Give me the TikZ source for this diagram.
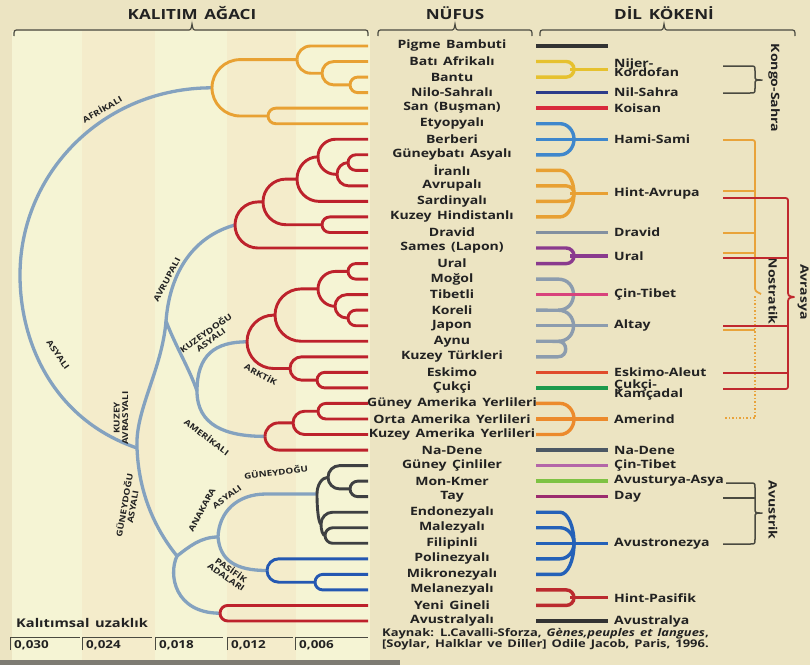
\documentclass[tikz,border=0pt]{standalone}
\usepackage{fontspec}
\setmainfont{Open Sans}[FakeStretch=1.22, WordSpace=1.5]
\usetikzlibrary{calc}
\definecolor{bgc}{HTML}{ECE4C2}
\definecolor{panA}{HTML}{F5F4D4}
\definecolor{panB}{HTML}{F4ECCB}
\definecolor{txt}{HTML}{222222}
\definecolor{brc}{HTML}{4A4A40}
\definecolor{trk}{HTML}{84A2BF}
\definecolor{orT}{HTML}{E8A133}
\definecolor{rdT}{HTML}{BD222C}
\definecolor{dkT}{HTML}{3E4042}
\definecolor{blT}{HTML}{2458B2}
\definecolor{cPig}{HTML}{333333}
\definecolor{cNij}{HTML}{E6C12E}
\definecolor{cNil}{HTML}{2D3C8A}
\definecolor{cKoi}{HTML}{D92A3C}
\definecolor{cHam}{HTML}{3F87CC}
\definecolor{cHin}{HTML}{E8A033}
\definecolor{cDra}{HTML}{8390A0}
\definecolor{cUra}{HTML}{8A3A8E}
\definecolor{cTib}{HTML}{D8427C}
\definecolor{cAlt}{HTML}{8C9CAE}
\definecolor{cEsk}{HTML}{E04B2B}
\definecolor{cCuk}{HTML}{1C9A4C}
\definecolor{cAme}{HTML}{EC8A2C}
\definecolor{cNad}{HTML}{4C5864}
\definecolor{cCin}{HTML}{B466A8}
\definecolor{cMon}{HTML}{7EC243}
\definecolor{cTay}{HTML}{9C2C6E}
\definecolor{cAvn}{HTML}{2461B8}
\definecolor{cHpa}{HTML}{BB2A2E}
\definecolor{cAvs}{HTML}{333333}
\definecolor{cNos}{HTML}{E9A33A}
\definecolor{cAvr}{HTML}{C0282E}

% rounded cladogram arm from parent to child
\newcommand\arm[2]{\draw let \p1=(#1), \p2=(#2), \n1={(\y2)-(\y1)}, \n2={min(abs((\y2)-(\y1)),(\x2)-(\x1))} in (\p1) .. controls (\x1,{\y1+0.5523*(\n1)}) and ({\x1+0.4477*\n2},\y2) .. ({\x1+\n2},\y2) -- (\p2);}

% language fork: colour, centre y, list of prong ys
\newcommand\lfork[3]{%
 \foreach \yy in {#3}{%
   \pgfmathsetmacro\lfdd{\yy-(#2)}%
   \pgfmathsetmacro\lfrx{min(abs(\lfdd),14)}%
   \draw[lng,draw=#1] (536,\yy) -- ({574-\lfrx},\yy) .. controls ({574-0.4477*\lfrx},\yy) and (574,{#2+0.5523*\lfdd}) .. (574,#2);
 }%
 \draw[lng,draw=#1] (570,#2) -- (608,#2);
}

\begin{document}
\begin{tikzpicture}[x=1pt,y=-1pt,
  tree/.style={line width=2.9pt, line join=round},
  trunk/.style={line width=3.3pt, draw=trk, line join=round},
  lng/.style={line width=3.4pt},
  pop/.style={font=\bfseries\fontsize{11.5}{12}\selectfont, text=txt, inner sep=0pt},
  lab/.style={pop, anchor=west, align=left},
  blab/.style={font=\bfseries\fontsize{8.1}{8.4}\selectfont, text=txt, inner sep=0pt, align=center},
  hdr/.style={font=\bfseries\fontsize{14}{14}\selectfont, text=txt, inner sep=0pt},
  hbrace/.style={line width=1.2pt, draw=brc},
  rbrace/.style={line width=1.5pt, draw=brc, line join=round},
  nosline/.style={line width=1.8pt, draw=cNos},
  avrline/.style={line width=1.8pt, draw=cAvr, line join=round},
  side/.style={font=\bfseries\fontsize{11.5}{12}\selectfont, text=txt, inner sep=0pt, rotate=-90},
  scl/.style={font=\bfseries\fontsize{11}{12}\selectfont, text=txt, inner sep=0pt},
  sclline/.style={line width=0.9pt, draw=brc},
  src/.style={font=\bfseries\fontsize{10.6}{11}\selectfont, text=txt, inner sep=0pt}]

\useasboundingbox (0,0) rectangle (810,665);
\fill[bgc] (0,0) rectangle (810,665);
\fill[panA] (12,31) rectangle (370,660);
\fill[panB] (82,31) rectangle (155,660);
\fill[panB] (227,31) rectangle (296,660);
\fill[black!65, opacity=.75] (0,660) rectangle (400,665);

% headers
\node[hdr] (h1) at (192,13) {KALITIM AĞACI};
\node[hdr] (h2) at (455,13) {NÜFUS};
\node[hdr] (h3) at (664,13) {DİL KÖKENİ};
\draw[hbrace] (14,36) .. controls (14,30) .. (19,30) -- (187,30) .. controls (191,30) .. (192,24) .. controls (193,30) .. (197,30) -- (363,30) .. controls (368,30) .. (368,36);
\draw[hbrace] (378,36) .. controls (378,30) .. (383,30) -- (450,30) .. controls (454,30) .. (455,24) .. controls (456,30) .. (460,30) -- (527,30) .. controls (532,30) .. (532,36);
\draw[hbrace] (540,36) .. controls (540,30) .. (545,30) -- (659,30) .. controls (663,30) .. (664,24) .. controls (665,30) .. (669,30) -- (790,30) .. controls (795,30) .. (795,36);

% population names, leaf ends, language starts
\foreach \t [count=\i] in {Pigme Bambuti, Batı Afrikalı, Bantu, Nilo-Sahralı, San (Buşman), Etyopyalı, Berberi, Güneybatı Asyalı, İranlı, Avrupalı, Sardinyalı, Kuzey Hindistanlı, Dravid, Sames (Lapon), Ural, Moğol, Tibetli, Koreli, Japon, Aynu, Kuzey Türkleri, Eskimo, Çukçi, Güney Amerika Yerlileri, Orta Amerika Yerlileri, Kuzey Amerika Yerlileri, Na-Dene, Güney Çinliler, Mon-Kmer, Tay, Endonezyalı, Malezyalı, Filipinli, Polinezyalı, Mikronezyalı, Melanezyalı, Yeni Gineli, Avustralyalı}{
  \pgfmathsetmacro\ry{46+(\i-1)*15.54}
  \node[pop] (n\i) at (452,\ry) {\t};
  \coordinate (l\i) at (368,\ry);
  \coordinate (s\i) at (536,\ry);
}

% internal tree nodes
\coordinate (raf) at (212,87.8);
\coordinate (a) at (297,59.6);
\coordinate (b2) at (322,73.2);
\coordinate (b3) at (350,84.9);
\coordinate (s) at (268,116.0);
\coordinate (c1) at (348,162.6);
\coordinate (c2) at (337,174.3);
\coordinate (c3) at (318,156.8);
\coordinate (c4) at (297,179.1);
\coordinate (c5) at (322,224.7);
\coordinate (c6) at (263,201.9);
\coordinate (c7) at (235,225.0);
\coordinate (q1) at (348,271.4);
\coordinate (q2) at (348,318.0);
\coordinate (q3) at (335,306.3);
\coordinate (q4) at (318,288.9);
\coordinate (q5) at (275,315.1);
\coordinate (q6) at (317,380.1);
\coordinate (q7) at (290,368.5);
\coordinate (q8) at (247,341.8);
\coordinate (m1) at (318,411.2);
\coordinate (m2) at (293,422.9);
\coordinate (m3) at (265,436.4);
\coordinate (d1) at (350,488.9);
\coordinate (d2) at (328,477.3);
\coordinate (e1) at (325,535.5);
\coordinate (e2) at (321,523.9);
\coordinate (D) at (317,494.0);
\coordinate (p1) at (315,582.2);
\coordinate (P) at (267,570.5);
\coordinate (AU) at (220,613.2);
\coordinate (R0) at (20,275);
\coordinate (X) at (137,448);
\coordinate (Y) at (166,321);
\coordinate (W) at (197,391);
\coordinate (Z) at (177,556);
\coordinate (V) at (218,537);

% trunk (blue-grey)
\draw[trunk] (raf) .. controls (103,87.8) and (20,173) .. (R0) .. controls (20,345) and (55,420) .. (X);
\draw[trunk] (c7) .. controls (195,236) and (170,270) .. (Y) .. controls (162,370) and (135,410) .. (X) .. controls (139,500) and (160,535) .. (Z);
\draw[trunk] (Y) .. controls (175,345) and (190,370) .. (W);
\draw[trunk] (q8) .. controls (215,341.8) and (197,355) .. (W) .. controls (197,425) and (225,436.4) .. (m3);
\draw[trunk] (Z) .. controls (190,546) and (201,537) .. (V);
\draw[trunk] (Z) .. controls (168,575) and (175,613.2) .. (AU);
\draw[trunk] (D) -- (266,494) .. controls (237,494) and (219,512) .. (V) .. controls (220,560) and (235,570.5) .. (P);

% clades
\begin{scope}[tree, draw=orT]
\arm{raf}{a} \arm{raf}{s} \arm{a}{l1} \arm{a}{b2} \arm{b2}{l2} \arm{b2}{b3} \arm{b3}{l3} \arm{b3}{l4} \arm{s}{l5} \arm{s}{l6}
\end{scope}
\begin{scope}[tree, draw=rdT]
\arm{c7}{c6} \arm{c7}{l14} \arm{c6}{c4} \arm{c6}{c5} \arm{c5}{l12} \arm{c5}{l13} \arm{c4}{c3} \arm{c4}{l11} \arm{c3}{l7} \arm{c3}{c2} \arm{c2}{c1} \arm{c2}{l10} \arm{c1}{l8} \arm{c1}{l9}
\arm{q8}{q5} \arm{q8}{q7} \arm{q5}{q4} \arm{q5}{l20} \arm{q4}{q1} \arm{q4}{q3} \arm{q1}{l15} \arm{q1}{l16} \arm{q3}{l17} \arm{q3}{q2} \arm{q2}{l18} \arm{q2}{l19} \arm{q7}{l21} \arm{q7}{q6} \arm{q6}{l22} \arm{q6}{l23}
\arm{m3}{m2} \arm{m3}{l27} \arm{m2}{m1} \arm{m2}{l26} \arm{m1}{l24} \arm{m1}{l25}
\arm{AU}{l37} \arm{AU}{l38}
\end{scope}
\begin{scope}[tree, draw=dkT]
\arm{D}{d2} \arm{D}{e2} \arm{d2}{l28} \arm{d2}{d1} \arm{d1}{l29} \arm{d1}{l30} \arm{e2}{l31} \arm{e2}{e1} \arm{e1}{l32} \arm{e1}{l33}
\end{scope}
\begin{scope}[tree, draw=blT]
\arm{P}{l34} \arm{P}{p1} \arm{p1}{l35} \arm{p1}{l36}
\end{scope}

% branch labels
\node[blab, rotate=30] (tA) at (102,109) {AFRİKALI};
\node[blab, rotate=-55] (tB) at (58,355) {ASYALI};
\node[blab, rotate=62] (tC) at (167,280) {AVRUPALI};
\node[blab, rotate=35] (tD) at (208,336) {KUZEYDOĞU\\ASYALI};
\node[blab, rotate=-28] (tE) at (261,374) {ARKTİK};
\node[blab, rotate=-37] (tF) at (207,437) {AMERİKALI};
\node[blab, rotate=90] (tG) at (121,418) {KUZEY\\AVRASYALI};
\node[blab, rotate=80] (tH) at (128,506) {GÜNEYDOĞU\\ASYALI};
\node[blab, rotate=62] (tI) at (202,510) {ANAKARA};
\node[blab, rotate=7] (tJ) at (276,472) {GÜNEYDOĞU};
\node[blab, rotate=36] (tK) at (227,497) {ASYALI};
\node[blab, rotate=-35] (tL) at (229,573) {PASİFİK\\ADALARI};

% language lines
\draw[lng, draw=cPig] (s1) -- ++(72,0);
\lfork{cNij}{69.3}{61.5,77.1}
\draw[lng, draw=cNil] (s4) -- ++(72,0);
\draw[lng, draw=cKoi] (s5) -- ++(72,0);
\lfork{cHam}{139.2}{123.7,139.2,154.8}
\lfork{cHin}{193.6}{170.3,185.9,201.4,216.9}
\draw[lng, draw=cDra] (s13) -- ++(72,0);
\lfork{cUra}{255.8}{248.0,263.6}
\draw[lng, draw=cAlt] (s16) -- (558,279.1) .. controls (578.7,279.1) and (578.7,310.2) .. (558,310.2) -- (s18);
\draw[lng, draw=cAlt] (558,310.2) .. controls (578.7,310.2) and (578.7,341.3) .. (558,341.3) -- (s20);
\draw[lng, draw=cAlt] (558,341.3) .. controls (568.3,341.3) and (568.3,356.8) .. (558,356.8) -- (s21);
\draw[lng, draw=cAlt] (s19) -- ++(72,0);
\draw[lng, draw=cTib] (s17) -- ++(72,0);
\draw[lng, draw=cEsk] (s22) -- ++(72,0);
\draw[lng, draw=cCuk] (s23) -- ++(72,0);
\lfork{cAme}{419.0}{403.4,419.0,434.5}
\draw[lng, draw=cNad] (s27) -- ++(72,0);
\draw[lng, draw=cCin] (s28) -- ++(72,0);
\draw[lng, draw=cMon] (s29) -- ++(72,0);
\draw[lng, draw=cTay] (s30) -- ++(72,0);
\lfork{cAvn}{543.3}{512.2,527.7,543.3,558.8,574.4}
\lfork{cHpa}{597.7}{589.9,605.4}
\draw[lng, draw=cAvs] (s38) -- ++(72,0);

% language labels
\node[lab] (g1) at (614,68) {Nijer-\\[-3pt]Kordofan};
\node[lab] (g2) at (614,92.6) {Nil-Sahra};
\node[lab] (g3) at (614,108.2) {Koisan};
\node[lab] (g4) at (614,139.2) {Hami-Sami};
\node[lab] (g5) at (614,193.6) {Hint-Avrupa};
\node[lab] (g6) at (614,232.5) {Dravid};
\node[lab] (g7) at (614,255.8) {Ural};
\node[lab] (g8) at (614,294.6) {Çin-Tibet};
\node[lab] (g9) at (614,325.7) {Altay};
\node[lab] (g10) at (614,372.3) {Eskimo-Aleut};
\node[lab] (g11) at (614,390.5) {Çukçi-\\[-3pt]Kamçadal};
\node[lab] (g12) at (614,419.0) {Amerind};
\node[lab] (g13) at (614,450.0) {Na-Dene};
\node[lab] (g14) at (614,465.6) {Çin-Tibet};
\node[lab] (g15) at (614,481.1) {Avusturya-Asya};
\node[lab] (g16) at (614,496.7) {Day};
\node[lab] (g17) at (614,543.3) {Avustronezya};
\node[lab] (g18) at (614,597.7) {Hint-Pasifik};
\node[lab] (g19) at (614,621.0) {Avustralya};

% macro-family brackets
\draw[rbrace] (723,66) -- (750,66) .. controls (755,66) .. (755,71) -- (755,75) .. controls (755,80) .. (762,80) .. controls (755,80) .. (755,85) -- (755,88) .. controls (755,93) .. (750,93) -- (723,93);
\node[side] (k1) at (774,88) {Kongo-Sahra};

\draw[nosline, line join=round] (723,140) -- (750,140) .. controls (755,140) .. (755,145) -- (755,286) .. controls (755,291) .. (761,294);
\draw[nosline] (723,191) -- (755,191);
\draw[nosline] (723,233) -- (755,233);
\draw[nosline] (723,253) -- (755,253);
\draw[nosline] (723,330) -- (755,330);
\draw[nosline, line width=1.5pt, dotted] (755,296) -- (755,418) -- (723,418);
\node[side] (k2) at (773,291) {Nostratik};

\draw[avrline] (723,198) -- (783,198) .. controls (788,198) .. (788,203) -- (788,290) .. controls (788,296) .. (794,297) .. controls (788,298) .. (788,304) -- (788,384) .. controls (788,389) .. (783,389) -- (723,389);
\draw[avrline] (723,258) -- (788,258);
\draw[avrline] (723,326) -- (788,326);
\draw[avrline] (723,373) -- (788,373);
\node[side] (k3) at (803,292) {Avrasya};

\draw[rbrace] (726,483) -- (750,483) .. controls (755,483) .. (755,488) -- (755,508) .. controls (755,513) .. (762,513) .. controls (755,513) .. (755,518) -- (755,539) .. controls (755,544) .. (750,544) -- (723,544);
\draw[rbrace] (723,498) -- (755,498);
\node[side] (k4) at (773,510) {Avustrik};

% distance scale
\node[scl, anchor=west, font=\bfseries\fontsize{12}{13}\selectfont] (ku) at (16,623) {Kalıtımsal uzaklık};
\foreach \xx/\ll/\vv [count=\k] in {10/70/{0,030}, 82/70/{0,024}, 155/68/{0,018}, 227/66/{0,012}, 295/73/{0,006}}{
  \draw[sclline] (\xx,650) -- (\xx,637) -- (\xx+\ll,637);
  \node[scl, anchor=west] (sc\k) at (\xx+4,645) {\vv};
}

% source
\node[src, anchor=north west, align=left] (src) at (382,628.5) {Kaynak: L.Cavalli-Sforza, \textit{Gènes,peuples et langues},\\{}[Soylar, Halklar ve Diller] Odile Jacob, Paris, 1996.};
\end{tikzpicture}
\end{document}
